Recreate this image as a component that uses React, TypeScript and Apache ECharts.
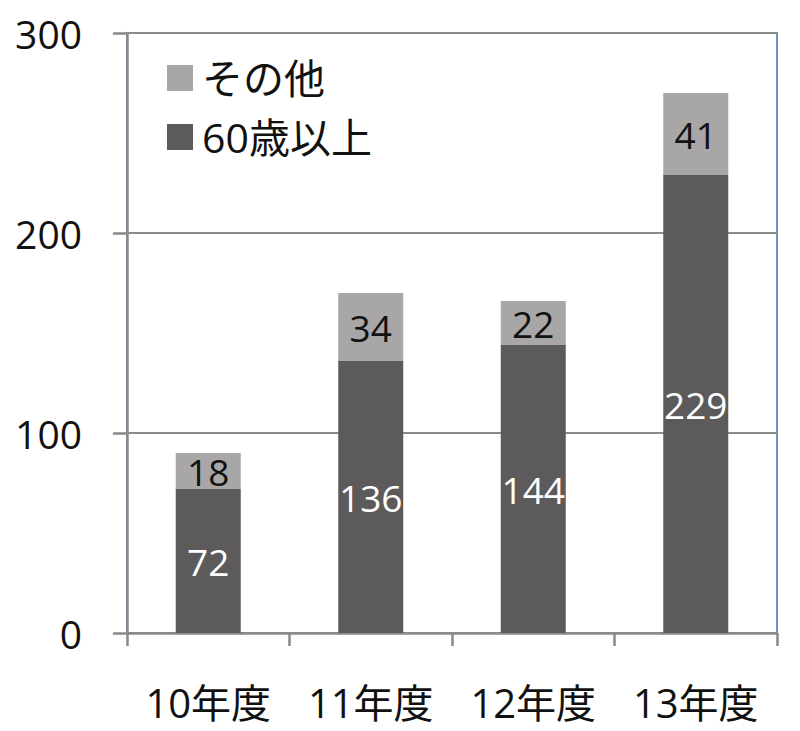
import * as echarts from 'echarts'
import { useEffect, useRef } from 'react'

const categories = ['10年度', '11年度', '12年度', '13年度']
const over60 = [72, 136, 144, 229]
const others = [18, 34, 22, 41]

const font = "'Open Sans', 'Noto Sans CJK JP', sans-serif"
const axisGray = '#8a8a8a'

export default function App() {
  const ref = useRef<HTMLDivElement>(null)

  useEffect(() => {
    document.body.style.margin = '0'
    if (!ref.current) return
    const chart = echarts.init(ref.current, undefined, { renderer: 'svg' })
    chart.setOption({
      animation: false,
      textStyle: { fontFamily: font },
      grid: {
        left: 127,
        right: 23,
        top: 33,
        bottom: 98,
        show: true,
        borderColor: '#7090c8',
        borderWidth: 2,
      },
      legend: {
        orient: 'vertical',
        left: 162,
        top: 52,
        itemWidth: 26,
        itemHeight: 26,
        itemGap: 17,
        icon: 'rect',
        data: ['その他', '60歳以上'],
        textStyle: {
          fontSize: 41,
          lineHeight: 42,
          color: '#111',
          fontFamily: font,
          padding: [0, 0, 0, 4],
        },
      },
      xAxis: {
        type: 'category',
        data: categories,
        axisLine: { lineStyle: { color: axisGray, width: 2.5 } },
        axisTick: { show: true, interval: 0, length: 13, lineStyle: { color: axisGray, width: 2.5 } },
        axisLabel: { interval: 0, hideOverlap: false, fontSize: 40, color: '#111', margin: 49, fontFamily: font },
        splitLine: { show: false },
      },
      yAxis: {
        type: 'value',
        min: 0,
        max: 300,
        interval: 100,
        axisLine: { show: true, lineStyle: { color: axisGray, width: 2.5 } },
        axisTick: { show: true, length: 14, lineStyle: { color: axisGray, width: 2.5 } },
        axisLabel: { fontSize: 39, color: '#111', margin: 45, fontFamily: font },
        splitLine: { lineStyle: { color: axisGray, width: 2 } },
      },
      series: [
        {
          name: '60歳以上',
          type: 'bar',
          stack: 'total',
          data: over60,
          barWidth: 65,
          itemStyle: { color: '#5c5a5b' },
          label: { show: true, position: 'inside', color: '#fff', fontSize: 37, fontFamily: font },
        },
        {
          name: 'その他',
          type: 'bar',
          stack: 'total',
          data: others,
          barWidth: 65,
          itemStyle: { color: '#a8a6a7' },
          label: { show: true, position: 'inside', color: '#111', fontSize: 37, fontFamily: font },
        },
      ],
    })
    return () => chart.dispose()
  }, [])

  return <div ref={ref} style={{ width: 800, height: 731 }} />
}
